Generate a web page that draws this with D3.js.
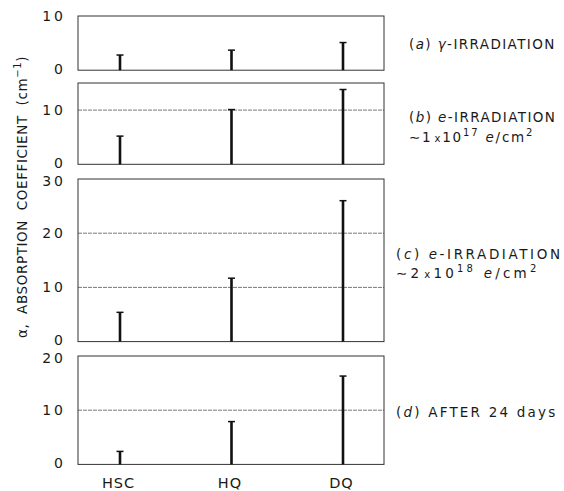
<!DOCTYPE html>
<html><head><meta charset="utf-8">
<script src="https://cdn.jsdelivr.net/npm/d3@7"></script>
<style>
body{margin:0;background:#fff;}
svg{display:block;font-family:"DejaVu Sans",sans-serif;}
</style></head>
<body>
<svg id="chart" width="564" height="491"></svg>
<script>
const categories = ["HSC", "HQ", "DQ"];
const valuesA = [2.8, 3.7, 5.1];
const valuesB = [5.2, 10.1, 13.8];
const valuesC = [5.4, 11.7, 26.0];
const valuesD = [2.4, 7.9, 16.3];
const yMaxes = [10, 15, 30, 20];
const yTicksA = [0, 10];
const yTicksB = [0, 10];
const yTicksC = [0, 10, 20, 30];
const yTicksD = [0, 10, 20];

const series = [valuesA, valuesB, valuesC, valuesD];
const ticks = [yTicksA, yTicksB, yTicksC, yTicksD];
const tops = [16, 83, 179, 356];
const pxPerUnit = 5.42;
const ink = "#1a1a1a";

const svg = d3.select("#chart");
const left = 78, right = 384;
const x = d3.scalePoint().domain(categories).range([120, 343]);

series.forEach((vals, i) => {
  const top = tops[i];
  const bottom = top + yMaxes[i] * pxPerUnit;
  const y = d3.scaleLinear().domain([0, yMaxes[i]]).range([bottom, top]);
  const g = svg.append("g");
  ticks[i].filter(t => t > 0 && t < yMaxes[i]).forEach(t => {
    g.append("line").attr("x1", left).attr("x2", right)
      .attr("y1", y(t)).attr("y2", y(t))
      .attr("stroke", "#555").attr("stroke-width", 0.8).attr("stroke-dasharray", "4,1");
  });
  g.append("rect").attr("x", left).attr("y", top).attr("width", right - left).attr("height", bottom - top)
    .attr("fill", "none").attr("stroke", "#333").attr("stroke-width", 1);
  const ax = d3.axisLeft(y).tickValues(ticks[i]).tickSize(0).tickPadding(12).tickFormat(d3.format("d"));
  const axg = g.append("g").attr("transform", `translate(${left},0)`).call(ax);
  axg.select(".domain").remove();
  axg.selectAll("text").attr("font-size", 14).attr("fill", ink)
    .attr("font-family", "DejaVu Sans, sans-serif").attr("letter-spacing", 3)
    .attr("transform", d => d === yMaxes[i] && i > 0 ? "translate(0,2)" : (d === 0 ? "translate(0,-1.5)" : null));
  vals.forEach((v, j) => {
    const cx = x(categories[j]);
    g.append("line").attr("x1", cx).attr("x2", cx).attr("y1", y(0)).attr("y2", y(v))
      .attr("stroke", "#111").attr("stroke-width", 2.6);
    g.append("line").attr("x1", cx - 3.5).attr("x2", cx + 3.5).attr("y1", y(v)).attr("y2", y(v))
      .attr("stroke", "#111").attr("stroke-width", 1.5);
  });
});

const xb = tops[3] + 20 * pxPerUnit;
const xAxis = d3.axisBottom(x).tickSize(0).tickPadding(13);
const xg = svg.append("g").attr("transform", `translate(-2,${xb})`).call(xAxis);
xg.select(".domain").remove();
xg.selectAll("text").attr("font-size", 14.5).attr("fill", ink)
  .attr("font-family", "DejaVu Sans, sans-serif").attr("letter-spacing", 1);

const yt = svg.append("text").attr("transform", "translate(27,197) rotate(-90)")
  .attr("text-anchor", "middle").attr("font-size", 13.5).attr("fill", ink)
  .attr("letter-spacing", 0.6).style("white-space", "pre");
yt.append("tspan").text("α,  ABSORPTION  COEFFICIENT  (cm");
yt.append("tspan").attr("font-size", 10).attr("dy", -6).text("−1");
yt.append("tspan").attr("dy", 6).text(")");

function label(xPos, yPos, ls, letter, rest) {
  const t = svg.append("text").attr("x", xPos).attr("y", yPos).attr("font-size", 13.5)
    .attr("fill", ink).attr("letter-spacing", ls);
  t.append("tspan").text("(");
  t.append("tspan").attr("font-style", "italic").text(letter);
  t.append("tspan").text(") ");
  rest(t);
  return t;
}
label(409, 49, 1.4, "a", t => { t.append("tspan").attr("font-style", "italic").text("γ"); t.append("tspan").text("-IRRADIATION"); });
label(409, 122, 1.4, "b", t => { t.append("tspan").attr("font-style", "italic").text("e"); t.append("tspan").text("-IRRADIATION"); });
label(396, 259, 2.6, "c", t => { t.append("tspan").attr("font-style", "italic").text("e"); t.append("tspan").text("-IRRADIATION"); });
label(396, 417, 2.2, "d", t => { t.append("tspan").text("AFTER  24 days"); });

function fluence(xPos, yPos, ls, mant, exp) {
  const t = svg.append("text").attr("x", xPos).attr("y", yPos).attr("font-size", 13.5)
    .attr("fill", ink).attr("letter-spacing", ls);
  t.append("tspan").text("∼" + mant);
  t.append("tspan").attr("font-size", 10).attr("dx", 2).text("x");
  t.append("tspan").text("10");
  t.append("tspan").attr("font-size", 10).attr("dy", -6).text(exp);
  t.append("tspan").attr("dy", 6).attr("font-style", "italic").text(" e");
  t.append("tspan").text("/cm");
  t.append("tspan").attr("font-size", 10).attr("dy", -6).text("2");
}
fluence(409, 142, 1.8, "1", "17");
fluence(396, 278, 3.2, "2", "18");
</script>
</body></html>
